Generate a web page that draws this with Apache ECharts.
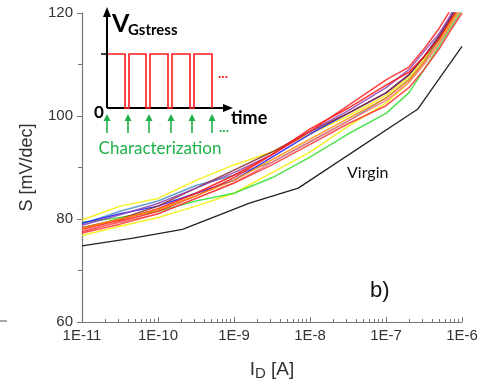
<!DOCTYPE html>
<html><head><meta charset="utf-8">
<script src="https://cdn.jsdelivr.net/npm/echarts@6/dist/echarts.min.js"></script>
<style>html,body{margin:0;padding:0;background:#fff}#c{width:498px;height:387px}</style>
</head><body><div id="c"></div>
<script>
// X sample currents [A]
const currents = [1e-11, 3.16e-11, 1e-10, 3.16e-10, 1e-9, 3.16e-9, 1e-8, 3.16e-8, 1e-7, 2e-7, 3.16e-7, 5e-7, 7e-7, 1e-6];
// Stressed curves (S in mV/dec)
const yellowTop   = [79.8, 82.5, 84.0, 87.5, 90.5, 93.0, 96.5, 100.0, 104.0, 107.5, 111.0, 115.0, 118.5, 122];
const yellowLow   = [76.8, 78.6, 80.3, 82.5, 85.0, 89.0, 93.0, 98.0, 102.5, 106.5, 110.5, 115.0, 118.0, 122];
const greenS      = [79.3, 80.3, 81.5, 83.5, 85.0, 88.0, 92.0, 96.5, 100.5, 104.5, 109.0, 113.5, 117.0, 120.5];
const steelBlueS  = [79.0, 81.5, 83.5, 86.5, 88.5, 91.0, 95.0, 99.0, 103.5, 107.0, 110.5, 115.0, 118.5, 122];
const blueS       = [79.2, 81.0, 82.5, 85.0, 87.5, 92.0, 96.5, 100.5, 104.5, 108.0, 111.5, 115.5, 119.0, 123];
const brownS      = [78.3, 80.0, 82.5, 86.0, 89.5, 93.0, 97.0, 100.5, 104.5, 108.0, 111.5, 115.5, 119.0, 123];
const purpleS     = [78.8, 80.8, 83.0, 86.0, 89.0, 92.5, 97.0, 101.0, 105.5, 109.0, 112.5, 116.0, 119.5, 124];
const redA        = [78.0, 79.8, 82.0, 85.0, 88.5, 92.5, 97.5, 101.5, 106.0, 108.5, 111.5, 115.0, 118.5, 122];
const redB        = [77.5, 79.5, 81.5, 84.5, 88.0, 92.5, 97.0, 102.0, 107.0, 109.5, 113.0, 117.0, 120.5, 124];
const salmonS     = [77.8, 79.3, 81.0, 84.0, 87.0, 91.0, 95.0, 99.0, 103.0, 106.5, 110.0, 114.0, 117.5, 121];
const orangeS     = [78.2, 80.0, 81.8, 84.5, 87.5, 91.5, 95.5, 99.5, 103.5, 107.0, 110.5, 114.5, 118.0, 121.5];
const redC        = [77.3, 79.0, 81.0, 84.0, 87.0, 90.5, 94.5, 98.5, 102.0, 105.5, 109.0, 113.0, 116.5, 120];
// Virgin curve
const virginX = [1e-11, 4.7e-11, 2.1e-10, 1.6e-9, 7e-9, 2.6e-7, 1e-6];
const virginY = [74.8, 76.3, 78.0, 83.1, 86.0, 101.3, 113.5];

const stressed = [
  ['yellowTop', yellowTop, '#f2ee00'],
  ['yellowLow', yellowLow, '#f2ee00'],
  ['green', greenS, '#33dd33'],
  ['steelBlue', steelBlueS, '#4a8fc8'],
  ['blue', blueS, '#1a1aff'],
  ['brown', brownS, '#8b2a2a'],
  ['purple', purpleS, '#8e3fb0'],
  ['redA', redA, '#ff1010'],
  ['redB', redB, '#ff2020'],
  ['salmon', salmonS, '#ff7070'],
  ['orange', orangeS, '#ff8c00'],
  ['redC', redC, '#ff3030']
];

const series = stressed.map(([name, vals, col]) => ({
  name, type: 'line', showSymbol: false, symbol: 'none',
  data: currents.map((x, i) => [x, vals[i]]),
  lineStyle: { color: col, width: 1.5, opacity: 0.85 },
  clip: true, z: 3
}));
series.push({
  name: 'Virgin', type: 'line', symbol: 'none',
  data: virginX.map((x, i) => [x, virginY[i]]),
  lineStyle: { color: '#222', width: 1.3 }, clip: true, z: 4
});

const chart = echarts.init(document.getElementById('c'), null, { renderer: 'canvas' });
const G = '#1fb04a';
const arrowXs = [107, 128, 149, 171, 192, 212];
const graphics = [];
// inset axes
graphics.push({ type: 'line', shape: { x1: 107, y1: 108, x2: 107, y2: 14 }, style: { stroke: '#000', lineWidth: 2 } });
graphics.push({ type: 'polygon', shape: { points: [[103, 17], [107, 7], [111, 17]] }, style: { fill: '#000' } });
graphics.push({ type: 'line', shape: { x1: 107, y1: 108, x2: 226, y2: 108 }, style: { stroke: '#000', lineWidth: 2 } });
graphics.push({ type: 'polygon', shape: { points: [[223, 104], [233, 108], [223, 112]] }, style: { fill: '#000' } });
graphics.push({ type: 'line', shape: { x1: 101, y1: 54, x2: 108, y2: 54 }, style: { stroke: '#000', lineWidth: 1.5 } });
// pulses
graphics.push({ type: 'polyline', shape: { points: [[108,54],[125,54],[125,108],[129,108],[129,54],[146,54],[146,108],[150,108],[150,54],[168,54],[168,108],[172,108],[172,54],[190,54],[190,108],[194,108],[194,54],[212,54],[212,108]] }, style: { stroke: '#ff1a1a', lineWidth: 1.6, fill: null } });
graphics.push({ type: 'text', style: { text: '...', x: 218, y: 80, fill: '#ff1a1a', font: 'bold 14px Lato', textVerticalAlign: 'bottom' } });
// green arrows
arrowXs.forEach(x => {
  graphics.push({ type: 'line', shape: { x1: x, y1: 133, x2: x, y2: 120 }, style: { stroke: G, lineWidth: 1.6 } });
  graphics.push({ type: 'polygon', shape: { points: [[x - 3.5, 121], [x, 114], [x + 3.5, 121]] }, style: { fill: G } });
});
graphics.push({ type: 'text', style: { text: '...', x: 219, y: 134, fill: G, font: 'bold 14px Lato', textVerticalAlign: 'bottom' } });
graphics.push({ type: 'text', style: { text: 'Characterization', x: 160, y: 149, fill: G, font: '17px Lato', textAlign: 'center', textVerticalAlign: 'middle' } });
// inset labels
graphics.push({ type: 'text', style: { text: 'V', x: 112, y: 24, fill: '#000', font: 'bold 25px Lato', textVerticalAlign: 'middle' } });
graphics.push({ type: 'text', style: { text: 'Gstress', x: 128, y: 30, fill: '#000', font: 'bold 15px Lato', textVerticalAlign: 'middle' } });
graphics.push({ type: 'text', style: { text: '0', x: 99, y: 113, fill: '#000', font: 'bold 17px Lato', textAlign: 'center', textVerticalAlign: 'middle' } });
graphics.push({ type: 'text', style: { text: 'time', x: 231, y: 118, fill: '#000', font: 'bold 18px Lato', textVerticalAlign: 'middle' } });
// annotations
graphics.push({ type: 'text', style: { text: 'Virgin', x: 347, y: 173, fill: '#111', font: '16px Lato', textVerticalAlign: 'middle' } });
graphics.push({ type: 'text', style: { text: 'b)', x: 370, y: 291, fill: '#111', font: '22px "Liberation Sans", Arial', textVerticalAlign: 'middle' } });
graphics.push({ type: 'line', shape: { x1: 0, y1: 321, x2: 7, y2: 321 }, style: { stroke: '#555', lineWidth: 1 } });

chart.setOption({
  animation: false,
  backgroundColor: '#fff',
  grid: { left: 82, right: 36, top: 13, bottom: 65, containLabel: false },
  xAxis: {
    type: 'log', logBase: 10, min: 1e-11, max: 1e-6,
    name: '{i|I}{s|D}{i| [A]}', nameLocation: 'middle', nameGap: 36,
    nameTextStyle: { rich: {
      i: { fontSize: 19, color: '#333', fontFamily: '"Liberation Sans", Arial' },
      s: { fontSize: 15, color: '#333', fontFamily: '"Liberation Sans", Arial', verticalAlign: 'bottom', padding: [8, 0, 0, 0] }
    } },
    axisLine: { show: true, lineStyle: { color: '#777', width: 1.2 } },
    axisTick: { show: true, inside: true, length: 5, lineStyle: { color: '#777' } },
    minorTick: { show: true, splitNumber: 9, length: 3, lineStyle: { color: '#777' } },
    splitLine: { show: false },
    axisLabel: { color: '#333', fontSize: 15, fontFamily: '"Liberation Sans", Arial', margin: 6,
      formatter: v => '1E' + Math.round(Math.log10(v)) }
  },
  yAxis: {
    type: 'value', min: 60, max: 120, interval: 20,
    name: 'S [mV/dec]', nameLocation: 'middle', nameGap: 46,
    nameTextStyle: { fontSize: 18, color: '#333', fontFamily: '"Liberation Sans", Arial' },
    axisLine: { show: true, lineStyle: { color: '#777', width: 1.2 } },
    axisTick: { show: true, length: 5, lineStyle: { color: '#777' } },
    minorTick: { show: true, splitNumber: 2, length: 4, lineStyle: { color: '#777' } },
    splitLine: { show: false },
    axisLabel: { color: '#333', fontSize: 15, fontFamily: '"Liberation Sans", Arial', margin: 9 }
  },
  series,
  graphic: graphics
});
</script></body></html>
